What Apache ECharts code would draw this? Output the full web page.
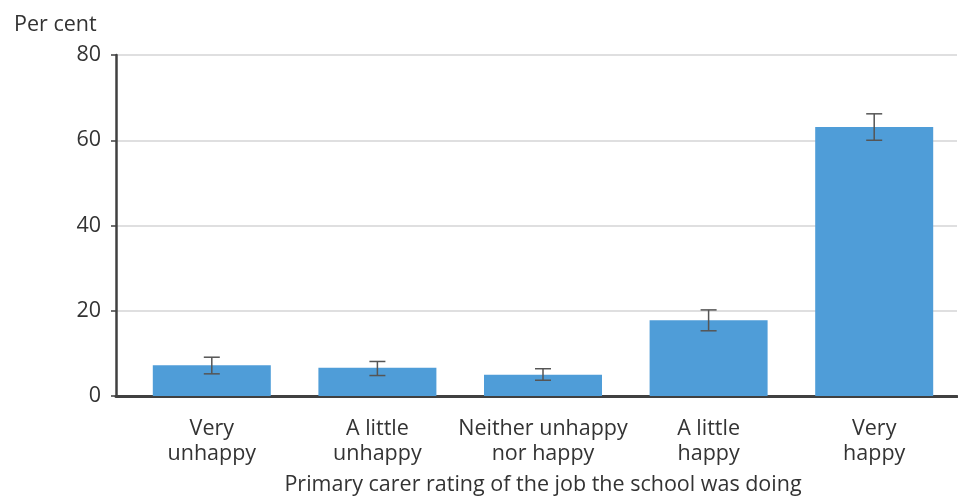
<!DOCTYPE html>
<html>
<head>
<meta charset="utf-8">
<script src="https://cdn.jsdelivr.net/npm/echarts@6/dist/echarts.min.js"></script>
<style>html,body{margin:0;padding:0;background:#fff}#main{width:958px;height:497px}</style>
</head>
<body>
<div id="main"></div>
<script>
var categories = ['Very\nunhappy', 'A little\nunhappy', 'Neither unhappy\nnor happy', 'A little\nhappy', 'Very\nhappy'];
var values = [7.2, 6.6, 5.0, 17.8, 63.1];
var errLow = [5.2, 4.8, 3.7, 15.3, 60.0];
var errHigh = [9.1, 8.1, 6.4, 20.2, 66.2];
var yTicks = [0, 20, 40, 60, 80];

var font = '"Open Sans", "Noto Sans", sans-serif';
var textColor = '#333';
var fs = 21.5;
var myChart = echarts.init(document.getElementById('main'), null, { renderer: 'canvas' });

var errData = categories.map(function (c, i) { return [i, errLow[i], errHigh[i]]; });

var option = {
    animation: false,
    title: {
        text: 'Per cent', left: 9, top: 9,
        textStyle: { fontFamily: font, fontSize: fs, fontWeight: 'normal', color: textColor }
    },
    grid: [
        { left: 116, right: 1, top: 55, bottom: 101, outerBoundsMode: 'none' },
        { left: 129, right: 1, top: 55, bottom: 101, outerBoundsMode: 'none' }
    ],
    xAxis: [
        {
            gridIndex: 0, type: 'category', data: categories,
            axisLine: { lineStyle: { color: '#404040', width: 3 } },
            axisTick: { show: false }, axisLabel: { show: false }
        },
        {
            gridIndex: 1, type: 'category', data: categories,
            axisLine: { show: false }, axisTick: { show: false },
            axisLabel: { interval: 0, fontFamily: font, fontSize: fs, color: textColor, lineHeight: 25, margin: 20 },
            name: 'Primary carer rating of the job the school was doing',
            nameLocation: 'middle', nameGap: 78,
            nameTextStyle: { fontFamily: font, fontSize: fs, color: textColor }
        }
    ],
    yAxis: [
        {
            gridIndex: 0, type: 'value', min: yTicks[0], max: yTicks[yTicks.length - 1], interval: 20,
            axisLine: { show: true, lineStyle: { color: '#404040', width: 2.5 } },
            axisTick: { show: true, length: 5, lineStyle: { color: '#404040', width: 1.5 } },
            axisLabel: { fontFamily: font, fontSize: fs, color: textColor, margin: 15 },
            splitLine: { lineStyle: { color: '#d4d4d6', width: 1.5 } }
        },
        {
            gridIndex: 1, type: 'value', min: yTicks[0], max: yTicks[yTicks.length - 1], interval: 20,
            show: false
        }
    ],
    series: [
        {
            type: 'bar', xAxisIndex: 1, yAxisIndex: 1, data: values,
            barWidth: 118,
            itemStyle: { color: '#4f9dd8' }
        },
        {
            type: 'custom', xAxisIndex: 1, yAxisIndex: 1, data: errData,
            renderItem: function (params, api) {
                var x = api.value(0);
                var lo = api.coord([x, api.value(1)]);
                var hi = api.coord([x, api.value(2)]);
                var hw = 8;
                var style = { stroke: '#555', lineWidth: 1.5 };
                return {
                    type: 'group',
                    children: [
                        { type: 'line', shape: { x1: hi[0], y1: hi[1], x2: lo[0], y2: lo[1] }, style: style },
                        { type: 'line', shape: { x1: hi[0] - hw, y1: hi[1], x2: hi[0] + hw, y2: hi[1] }, style: style },
                        { type: 'line', shape: { x1: lo[0] - hw, y1: lo[1], x2: lo[0] + hw, y2: lo[1] }, style: style }
                    ]
                };
            },
            z: 5
        }
    ]
};
myChart.setOption(option);
</script>
</body>
</html>
